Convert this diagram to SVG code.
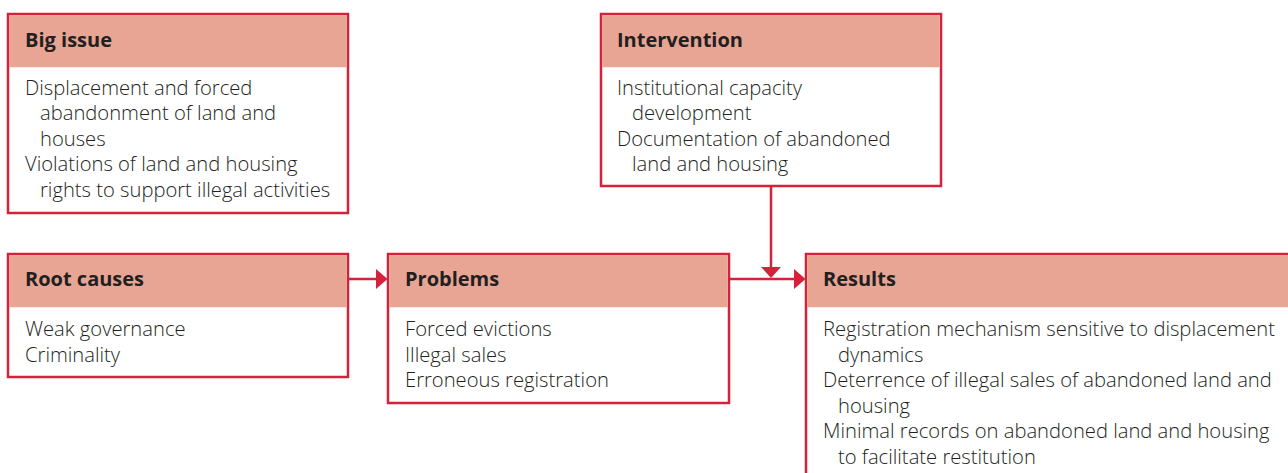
<svg xmlns="http://www.w3.org/2000/svg" width="1288" height="473" viewBox="0 0 1288 473">
<defs>
<style>
.box{fill:#fff;stroke:#D6213A;stroke-width:2.5}
.hd{fill:#E8A593}
.ht{font-family:"Open Sans",sans-serif;font-weight:bold;font-size:20px;fill:#231F20}
.bt{font-family:"Open Sans",sans-serif;font-weight:300;font-size:20.2px;fill:#231F20}
.ln{stroke:#D6213A;stroke-width:2.5;fill:none}
.ah{fill:#D6213A}
</style>
</defs>
<rect width="1288" height="473" fill="#fff"/>
<g id="big-issue">
<rect class="box" x="8" y="14" width="340" height="199"/>
<rect class="hd" x="9.25" y="15.25" width="337.5" height="52"/>
<text class="ht" x="25" y="47">Big issue</text>
<text class="bt" x="25" y="94.5">Displacement and forced</text>
<text class="bt" x="40" y="120">abandonment of land and</text>
<text class="bt" x="40" y="145.5">houses</text>
<text class="bt" x="25" y="171">Violations of land and housing</text>
<text class="bt" x="40" y="196.5">rights to support illegal activities</text>
</g>
<g id="intervention">
<rect class="box" x="601" y="14" width="340" height="172"/>
<rect class="hd" x="602.25" y="15.25" width="337.5" height="52"/>
<text class="ht" x="617" y="47">Intervention</text>
<text class="bt" x="617" y="94.5">Institutional capacity</text>
<text class="bt" x="632" y="120">development</text>
<text class="bt" x="617" y="145.5">Documentation of abandoned</text>
<text class="bt" x="632" y="171">land and housing</text>
</g>
<g id="root-causes">
<rect class="box" x="8" y="254" width="340" height="123"/>
<rect class="hd" x="9.25" y="255.25" width="337.5" height="52"/>
<text class="ht" x="25" y="286">Root causes</text>
<text class="bt" x="25" y="336">Weak governance</text>
<text class="bt" x="25" y="361.5">Criminality</text>
</g>
<g id="problems">
<rect class="box" x="388" y="254" width="341" height="149"/>
<rect class="hd" x="389.25" y="255.25" width="338.5" height="52"/>
<text class="ht" x="405" y="286">Problems</text>
<text class="bt" x="405" y="336">Forced evictions</text>
<text class="bt" x="405" y="361.5">Illegal sales</text>
<text class="bt" x="405" y="387">Erroneous registration</text>
</g>
<g id="results">
<rect class="box" x="806" y="254" width="500" height="240"/>
<rect class="hd" x="807.25" y="255.25" width="497.5" height="52"/>
<text class="ht" x="823" y="286">Results</text>
<text class="bt" x="823" y="336">Registration mechanism sensitive to displacement</text>
<text class="bt" x="838" y="361.5">dynamics</text>
<text class="bt" x="823" y="387">Deterrence of illegal sales of abandoned land and</text>
<text class="bt" x="838" y="412.5">housing</text>
<text class="bt" x="823" y="438">Minimal records on abandoned land and housing</text>
<text class="bt" x="838" y="463.5">to facilitate restitution</text>
</g>
<g id="connectors">
<line class="ln" x1="348" y1="279" x2="378" y2="279"/>
<polygon class="ah" points="376,269 387.5,279 376,289"/>
<line class="ln" x1="729" y1="279" x2="796" y2="279"/>
<polygon class="ah" points="794,269 805.5,279 794,289"/>
<line class="ln" x1="771" y1="186" x2="771" y2="269"/>
<polygon class="ah" points="761,267 781,267 771,278"/>
</g>
</svg>
